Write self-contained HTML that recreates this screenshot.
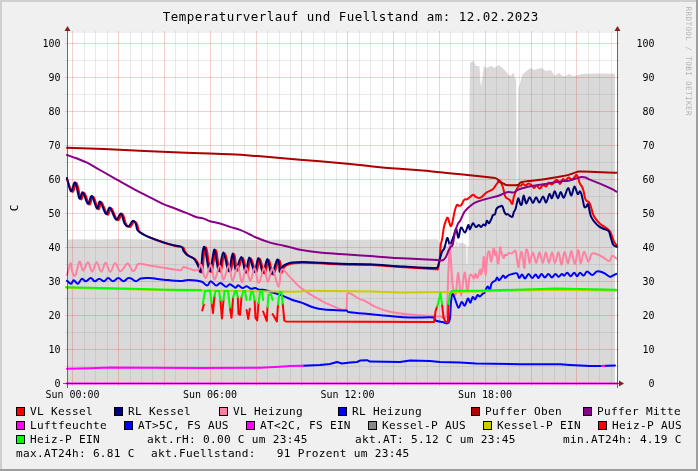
<!DOCTYPE html>
<html><head><meta charset="utf-8"><title>Temperaturverlauf</title>
<style>html,body{margin:0;padding:0;background:#F0F0F0;}svg{display:block;will-change:transform;}</style>
</head><body>
<svg width="698" height="471" viewBox="0 0 698 471"><rect x="0" y="0" width="698" height="471" fill="#F0F0F0"/>
<rect x="0" y="0" width="698" height="2" fill="#CFCFCF"/>
<rect x="0" y="0" width="2" height="471" fill="#CFCFCF"/>
<rect x="0" y="469" width="698" height="2" fill="#9E9E9E"/>
<rect x="696" y="0" width="2" height="471" fill="#9E9E9E"/>
<rect x="67" y="33" width="550" height="350" fill="#FFFFFF"/>
<polygon points="68.0,239.5 80.0,239.2 100.0,239.4 120.0,239.1 150.0,239.6 175.0,239.3 200.0,239.5 225.0,239.4 250.0,240.0 275.0,239.4 300.0,239.6 325.0,239.3 350.0,239.7 375.0,239.4 400.0,239.6 420.0,239.4 437.6,239.3 440.0,243.0 446.0,246.0 455.0,246.5 456.5,241.0 457.4,241.5 457.6,248.3 458.3,248.3 458.6,242.0 460.4,243.5 462.5,242.5 464.6,244.0 466.4,245.0 466.6,264.3 467.4,264.3 467.6,246.2 468.8,246.0 469.1,140.0 470.0,63.0 473.5,60.8 476.0,66.0 479.5,66.0 480.6,84.8 481.6,84.8 483.8,65.5 485.9,68.0 491.6,66.0 494.2,68.0 498.8,65.0 503.2,68.6 508.3,74.5 510.9,75.8 513.5,72.7 515.3,78.4 516.2,80.0 516.9,205.0 517.2,205.0 518.3,88.7 522.5,74.5 530.3,68.0 534.1,70.0 539.3,68.6 541.9,68.0 545.7,71.1 550.9,70.1 554.7,75.8 559.1,72.7 562.5,76.3 566.4,75.8 569.0,73.7 572.8,76.3 576.7,75.3 584.4,73.7 600.0,73.5 615.0,73.7 615.0,383.0 68.0,383.0" fill="#D9D9D9"/>
<g shape-rendering="crispEdges" stroke-width="1"><line x1="65" y1="366.5" x2="619" y2="366.5" stroke="#8F8F8F" stroke-opacity="0.2"/><line x1="65" y1="332.5" x2="619" y2="332.5" stroke="#8F8F8F" stroke-opacity="0.2"/><line x1="65" y1="298.5" x2="619" y2="298.5" stroke="#8F8F8F" stroke-opacity="0.2"/><line x1="65" y1="264.5" x2="619" y2="264.5" stroke="#8F8F8F" stroke-opacity="0.2"/><line x1="65" y1="230.5" x2="619" y2="230.5" stroke="#8F8F8F" stroke-opacity="0.2"/><line x1="65" y1="196.5" x2="619" y2="196.5" stroke="#8F8F8F" stroke-opacity="0.2"/><line x1="65" y1="162.5" x2="619" y2="162.5" stroke="#8F8F8F" stroke-opacity="0.2"/><line x1="65" y1="128.5" x2="619" y2="128.5" stroke="#8F8F8F" stroke-opacity="0.2"/><line x1="65" y1="94.5" x2="619" y2="94.5" stroke="#8F8F8F" stroke-opacity="0.2"/><line x1="65" y1="60.5" x2="619" y2="60.5" stroke="#8F8F8F" stroke-opacity="0.2"/><line x1="84.5" y1="31" x2="84.5" y2="385" stroke="#8F8F8F" stroke-opacity="0.2"/><line x1="95.5" y1="31" x2="95.5" y2="385" stroke="#8F8F8F" stroke-opacity="0.2"/><line x1="107.5" y1="31" x2="107.5" y2="385" stroke="#8F8F8F" stroke-opacity="0.2"/><line x1="130.5" y1="31" x2="130.5" y2="385" stroke="#8F8F8F" stroke-opacity="0.2"/><line x1="141.5" y1="31" x2="141.5" y2="385" stroke="#8F8F8F" stroke-opacity="0.2"/><line x1="152.5" y1="31" x2="152.5" y2="385" stroke="#8F8F8F" stroke-opacity="0.2"/><line x1="175.5" y1="31" x2="175.5" y2="385" stroke="#8F8F8F" stroke-opacity="0.2"/><line x1="187.5" y1="31" x2="187.5" y2="385" stroke="#8F8F8F" stroke-opacity="0.2"/><line x1="198.5" y1="31" x2="198.5" y2="385" stroke="#8F8F8F" stroke-opacity="0.2"/><line x1="221.5" y1="31" x2="221.5" y2="385" stroke="#8F8F8F" stroke-opacity="0.2"/><line x1="233.5" y1="31" x2="233.5" y2="385" stroke="#8F8F8F" stroke-opacity="0.2"/><line x1="244.5" y1="31" x2="244.5" y2="385" stroke="#8F8F8F" stroke-opacity="0.2"/><line x1="267.5" y1="31" x2="267.5" y2="385" stroke="#8F8F8F" stroke-opacity="0.2"/><line x1="279.5" y1="31" x2="279.5" y2="385" stroke="#8F8F8F" stroke-opacity="0.2"/><line x1="290.5" y1="31" x2="290.5" y2="385" stroke="#8F8F8F" stroke-opacity="0.2"/><line x1="313.5" y1="31" x2="313.5" y2="385" stroke="#8F8F8F" stroke-opacity="0.2"/><line x1="324.5" y1="31" x2="324.5" y2="385" stroke="#8F8F8F" stroke-opacity="0.2"/><line x1="336.5" y1="31" x2="336.5" y2="385" stroke="#8F8F8F" stroke-opacity="0.2"/><line x1="359.5" y1="31" x2="359.5" y2="385" stroke="#8F8F8F" stroke-opacity="0.2"/><line x1="370.5" y1="31" x2="370.5" y2="385" stroke="#8F8F8F" stroke-opacity="0.2"/><line x1="382.5" y1="31" x2="382.5" y2="385" stroke="#8F8F8F" stroke-opacity="0.2"/><line x1="405.5" y1="31" x2="405.5" y2="385" stroke="#8F8F8F" stroke-opacity="0.2"/><line x1="416.5" y1="31" x2="416.5" y2="385" stroke="#8F8F8F" stroke-opacity="0.2"/><line x1="427.5" y1="31" x2="427.5" y2="385" stroke="#8F8F8F" stroke-opacity="0.2"/><line x1="450.5" y1="31" x2="450.5" y2="385" stroke="#8F8F8F" stroke-opacity="0.2"/><line x1="462.5" y1="31" x2="462.5" y2="385" stroke="#8F8F8F" stroke-opacity="0.2"/><line x1="473.5" y1="31" x2="473.5" y2="385" stroke="#8F8F8F" stroke-opacity="0.2"/><line x1="496.5" y1="31" x2="496.5" y2="385" stroke="#8F8F8F" stroke-opacity="0.2"/><line x1="508.5" y1="31" x2="508.5" y2="385" stroke="#8F8F8F" stroke-opacity="0.2"/><line x1="519.5" y1="31" x2="519.5" y2="385" stroke="#8F8F8F" stroke-opacity="0.2"/><line x1="542.5" y1="31" x2="542.5" y2="385" stroke="#8F8F8F" stroke-opacity="0.2"/><line x1="554.5" y1="31" x2="554.5" y2="385" stroke="#8F8F8F" stroke-opacity="0.2"/><line x1="565.5" y1="31" x2="565.5" y2="385" stroke="#8F8F8F" stroke-opacity="0.2"/><line x1="588.5" y1="31" x2="588.5" y2="385" stroke="#8F8F8F" stroke-opacity="0.2"/><line x1="599.5" y1="31" x2="599.5" y2="385" stroke="#8F8F8F" stroke-opacity="0.2"/><line x1="611.5" y1="31" x2="611.5" y2="385" stroke="#8F8F8F" stroke-opacity="0.2"/><line x1="65" y1="349.5" x2="619" y2="349.5" stroke="#DE4F4F" stroke-opacity="0.28"/><line x1="65" y1="315.5" x2="619" y2="315.5" stroke="#DE4F4F" stroke-opacity="0.28"/><line x1="65" y1="281.5" x2="619" y2="281.5" stroke="#DE4F4F" stroke-opacity="0.28"/><line x1="65" y1="247.5" x2="619" y2="247.5" stroke="#DE4F4F" stroke-opacity="0.28"/><line x1="65" y1="213.5" x2="619" y2="213.5" stroke="#DE4F4F" stroke-opacity="0.28"/><line x1="65" y1="179.5" x2="619" y2="179.5" stroke="#DE4F4F" stroke-opacity="0.28"/><line x1="65" y1="145.5" x2="619" y2="145.5" stroke="#DE4F4F" stroke-opacity="0.28"/><line x1="65" y1="111.5" x2="619" y2="111.5" stroke="#DE4F4F" stroke-opacity="0.28"/><line x1="65" y1="77.5" x2="619" y2="77.5" stroke="#DE4F4F" stroke-opacity="0.28"/><line x1="65" y1="43.5" x2="619" y2="43.5" stroke="#DE4F4F" stroke-opacity="0.28"/><line x1="72.5" y1="31" x2="72.5" y2="386" stroke="#DE4F4F" stroke-opacity="0.28"/><line x1="118.5" y1="31" x2="118.5" y2="386" stroke="#DE4F4F" stroke-opacity="0.28"/><line x1="164.5" y1="31" x2="164.5" y2="386" stroke="#DE4F4F" stroke-opacity="0.28"/><line x1="210.5" y1="31" x2="210.5" y2="386" stroke="#DE4F4F" stroke-opacity="0.28"/><line x1="256.5" y1="31" x2="256.5" y2="386" stroke="#DE4F4F" stroke-opacity="0.28"/><line x1="301.5" y1="31" x2="301.5" y2="386" stroke="#DE4F4F" stroke-opacity="0.28"/><line x1="347.5" y1="31" x2="347.5" y2="386" stroke="#DE4F4F" stroke-opacity="0.28"/><line x1="393.5" y1="31" x2="393.5" y2="386" stroke="#DE4F4F" stroke-opacity="0.28"/><line x1="439.5" y1="31" x2="439.5" y2="386" stroke="#DE4F4F" stroke-opacity="0.28"/><line x1="485.5" y1="31" x2="485.5" y2="386" stroke="#DE4F4F" stroke-opacity="0.28"/><line x1="531.5" y1="31" x2="531.5" y2="386" stroke="#DE4F4F" stroke-opacity="0.28"/><line x1="576.5" y1="31" x2="576.5" y2="386" stroke="#DE4F4F" stroke-opacity="0.28"/></g>
<g><path d="M67.00,179.00 C67.95,181.26 70.70,191.16 72.40,191.90 C74.10,192.63 75.21,181.92 76.70,183.20 C78.19,184.48 79.55,197.48 80.90,199.20 C82.25,200.91 82.91,192.07 84.40,193.00 C85.89,193.93 87.84,203.85 89.40,204.50 C90.96,205.15 91.72,195.88 93.30,196.70 C94.88,197.52 96.95,208.20 98.40,209.20 C99.85,210.20 100.01,201.44 101.60,202.40 C103.19,203.36 105.78,213.65 107.50,214.70 C109.22,215.75 109.65,207.44 111.40,208.40 C113.15,209.36 115.56,219.20 117.50,220.20 C119.44,221.20 121.01,213.42 122.50,214.10 C123.99,214.78 124.67,221.84 126.00,224.10 C127.33,226.36 128.66,227.46 130.10,227.00 C131.53,226.54 132.97,222.01 134.20,221.50 C135.42,220.99 136.28,222.47 137.10,224.10 C137.92,225.73 137.88,229.07 138.90,230.80 C139.92,232.53 140.87,232.78 142.90,234.00 C144.93,235.22 146.51,236.17 150.50,237.80 C154.49,239.43 161.20,241.83 165.70,243.30 C170.20,244.77 173.14,245.43 176.20,246.20 C179.26,246.97 181.66,246.77 183.20,247.70 C184.74,248.63 183.98,250.05 185.00,251.50 C186.02,252.95 187.20,254.63 189.00,256.00 C190.80,257.37 193.46,257.51 195.30,259.30 C197.14,261.09 198.29,263.98 199.50,266.20 C200.71,268.42 201.36,274.61 202.20,272.00 C203.04,269.39 203.55,255.38 204.30,251.30 C205.05,247.22 205.66,246.46 206.50,248.70 C207.34,250.94 208.17,260.11 209.10,264.10 C210.03,268.09 210.65,273.88 211.80,271.50 C212.96,269.12 214.60,252.18 215.70,250.50 C216.80,248.82 217.21,258.22 218.10,261.90 C218.99,265.57 219.63,273.02 220.80,271.50 C221.97,269.98 223.14,253.11 224.80,253.20 C226.46,253.29 228.67,271.81 230.30,272.00 C231.93,272.19 232.89,254.53 234.10,254.30 C235.31,254.07 235.68,270.10 237.20,270.70 C238.72,271.30 241.07,257.28 242.80,257.70 C244.53,258.12 245.70,273.01 247.10,273.10 C248.50,273.19 249.22,258.29 250.80,258.20 C252.38,258.11 254.53,272.51 256.10,272.60 C257.68,272.69 258.31,258.52 259.80,258.70 C261.29,258.88 263.03,273.41 264.60,273.60 C266.18,273.79 267.31,259.61 268.80,259.80 C270.29,259.99 271.42,274.51 273.10,274.70 C274.78,274.89 277.10,262.86 278.40,260.90 C279.69,258.94 279.99,261.45 280.50,263.50 C281.01,265.55 280.65,271.95 281.30,272.60 C281.95,273.25 282.94,268.60 284.20,267.20 C285.46,265.80 286.82,265.28 288.50,264.60 C290.18,263.92 291.05,263.62 293.80,263.30 C296.55,262.99 299.04,262.76 304.20,262.80 C309.36,262.84 316.60,263.20 323.30,263.50 C330.00,263.80 334.06,264.24 342.50,264.50 C350.94,264.76 360.44,264.51 371.50,265.00 C382.56,265.49 394.29,266.56 405.70,267.30 C417.11,268.04 431.05,268.99 436.70,269.20 C438.00,269.41 437.49,270.11 438.00,268.50 C438.51,266.89 439.15,263.99 439.60,260.00 C440.06,256.01 440.15,249.41 440.60,245.70 C441.06,241.99 441.64,241.95 442.20,238.80 C442.76,235.65 443.20,230.73 443.80,227.70 C444.40,224.67 444.90,223.23 445.60,221.50 C446.30,219.77 446.94,217.01 447.80,217.80 C448.66,218.59 449.68,225.27 450.50,226.00 C451.32,226.73 451.80,224.45 452.50,222.00 C453.20,219.55 453.75,214.97 454.50,212.00 C455.25,209.03 456.01,206.09 456.80,205.00 C457.59,203.91 458.23,205.78 459.00,205.80 C459.77,205.82 460.29,206.13 461.20,205.10 C462.11,204.07 463.15,200.93 464.20,199.90 C465.25,198.87 466.17,199.71 467.20,199.20 C468.23,198.69 469.07,197.79 470.10,197.00 C471.13,196.21 472.05,194.70 473.10,194.70 C474.15,194.70 474.79,196.47 476.10,197.00 C477.41,197.53 478.78,198.49 480.60,197.70 C482.42,196.91 484.42,193.94 486.50,192.50 C488.58,191.06 490.94,190.67 492.50,189.50 C494.06,188.33 494.31,187.22 495.40,185.80 C496.48,184.38 497.91,182.31 498.70,181.40 C499.49,180.49 499.16,179.57 499.90,180.60 C500.63,181.63 501.99,184.57 502.90,187.30 C503.81,190.03 504.33,194.24 505.10,196.20 C505.87,198.16 506.51,197.87 507.30,198.50 C508.09,199.13 508.92,199.08 509.60,199.80 C510.28,200.52 510.69,201.95 511.20,202.60 C511.71,203.25 512.04,204.48 512.50,203.50 C512.96,202.52 513.10,199.41 513.80,197.00 C514.50,194.59 515.66,191.62 516.50,189.70 C517.34,187.77 517.78,186.73 518.60,186.00 C519.42,185.27 520.47,185.87 521.20,185.50 C521.94,185.13 522.05,183.90 522.80,183.90 C523.55,183.90 524.47,185.59 525.50,185.50 C526.53,185.41 527.58,183.40 528.70,183.40 C529.82,183.40 530.97,184.68 531.90,185.50 C532.83,186.32 533.18,188.10 534.00,188.10 C534.82,188.10 535.59,185.40 536.60,185.50 C537.62,185.60 538.68,188.79 539.80,188.70 C540.92,188.61 541.88,185.38 543.00,185.00 C544.12,184.62 545.19,186.88 546.20,186.50 C547.22,186.12 547.78,183.17 548.80,182.80 C549.81,182.43 550.77,184.86 552.00,184.40 C553.23,183.94 554.75,180.85 555.80,180.20 C556.85,179.55 557.25,180.05 558.00,180.70 C558.75,181.35 559.26,184.18 560.10,183.90 C560.94,183.62 561.87,179.66 562.80,179.10 C563.73,178.54 564.38,180.98 565.40,180.70 C566.41,180.42 567.48,177.69 568.60,177.50 C569.72,177.31 570.68,179.78 571.80,179.60 C572.92,179.42 574.16,177.32 575.00,176.50 C575.84,175.68 576.04,174.62 576.60,174.90 C577.16,175.18 577.64,176.61 578.20,178.10 C578.76,179.59 579.15,181.93 579.80,183.40 C580.45,184.87 581.25,185.21 581.90,186.50 C582.55,187.79 582.94,188.75 583.50,190.80 C584.06,192.85 584.54,196.43 585.10,198.20 C585.66,199.97 585.97,200.15 586.70,200.90 C587.44,201.65 588.50,201.26 589.30,202.50 C590.10,203.74 590.67,206.02 591.30,208.00 C591.93,209.98 592.16,211.95 592.90,213.80 C593.63,215.66 594.21,216.83 595.50,218.60 C596.79,220.37 598.53,222.33 600.30,223.90 C602.07,225.47 603.92,226.31 605.60,227.60 C607.28,228.89 608.78,229.81 609.90,231.30 C611.02,232.79 611.26,234.23 612.00,236.10 C612.74,237.97 613.26,240.41 614.10,242.00 C614.94,243.59 616.33,244.64 616.80,245.20" fill="none" stroke="#FF0000" stroke-width="2" stroke-linejoin="round" stroke-linecap="round"/><path d="M67.00,178.00 C67.68,180.31 69.47,190.41 70.90,191.20 C72.34,191.99 73.71,181.22 75.20,182.50 C76.69,183.78 78.05,196.78 79.40,198.50 C80.75,200.22 81.41,191.37 82.90,192.30 C84.39,193.23 86.34,203.15 87.90,203.80 C89.46,204.45 90.22,195.18 91.80,196.00 C93.38,196.82 95.45,207.50 96.90,208.50 C98.35,209.50 98.51,200.74 100.10,201.70 C101.69,202.66 104.28,212.95 106.00,214.00 C107.72,215.05 108.15,206.74 109.90,207.70 C111.65,208.66 114.06,218.50 116.00,219.50 C117.94,220.50 119.51,212.72 121.00,213.40 C122.49,214.08 123.17,221.14 124.50,223.40 C125.83,225.66 127.16,226.76 128.60,226.30 C130.03,225.84 131.47,221.31 132.70,220.80 C133.92,220.29 134.78,221.77 135.60,223.40 C136.42,225.03 136.38,228.37 137.40,230.10 C138.42,231.83 139.37,232.08 141.40,233.30 C143.43,234.53 145.01,235.47 149.00,237.10 C152.99,238.73 159.70,241.13 164.20,242.60 C168.70,244.07 171.64,244.73 174.70,245.50 C177.76,246.27 180.16,246.07 181.70,247.00 C183.24,247.93 182.48,249.35 183.50,250.80 C184.52,252.25 185.70,253.94 187.50,255.30 C189.30,256.67 191.96,256.81 193.80,258.60 C195.64,260.39 196.79,263.28 198.00,265.50 C199.21,267.72 199.86,273.91 200.70,271.30 C201.54,268.69 202.05,254.68 202.80,250.60 C203.55,246.52 204.16,245.76 205.00,248.00 C205.84,250.24 206.67,259.41 207.60,263.40 C208.53,267.39 209.15,273.18 210.30,270.80 C211.46,268.42 213.10,251.48 214.20,249.80 C215.30,248.12 215.71,257.52 216.60,261.20 C217.49,264.88 218.13,272.32 219.30,270.80 C220.47,269.28 221.64,252.41 223.30,252.50 C224.96,252.59 227.17,271.11 228.80,271.30 C230.43,271.49 231.39,253.83 232.60,253.60 C233.81,253.37 234.18,269.40 235.70,270.00 C237.22,270.60 239.57,256.58 241.30,257.00 C243.03,257.42 244.20,272.31 245.60,272.40 C247.00,272.49 247.73,257.59 249.30,257.50 C250.88,257.41 253.03,271.81 254.60,271.90 C256.18,271.99 256.81,257.82 258.30,258.00 C259.79,258.18 261.53,272.71 263.10,272.90 C264.68,273.09 265.81,258.91 267.30,259.10 C268.79,259.29 269.92,273.81 271.60,274.00 C273.28,274.19 275.60,262.16 276.90,260.20 C278.19,258.24 278.49,260.75 279.00,262.80 C279.51,264.85 279.15,271.25 279.80,271.90 C280.45,272.55 281.44,267.90 282.70,266.50 C283.96,265.10 285.32,264.58 287.00,263.90 C288.68,263.22 289.55,262.92 292.30,262.60 C295.05,262.29 297.54,262.06 302.70,262.10 C307.86,262.14 315.10,262.50 321.80,262.80 C328.50,263.10 332.56,263.54 341.00,263.80 C349.44,264.06 358.94,263.81 370.00,264.30 C381.06,264.79 392.53,265.99 404.20,266.60 C415.87,267.21 430.68,268.25 436.70,267.80 C438.60,267.35 437.73,266.66 438.60,264.00 C439.48,261.34 440.70,255.33 441.70,252.60 C442.70,249.87 443.55,250.25 444.30,248.40 C445.05,246.55 445.53,243.77 446.00,242.00 C446.47,240.23 446.65,238.86 447.00,238.30 C447.35,237.74 447.55,237.70 448.00,238.80 C448.45,239.90 448.99,244.04 449.60,244.60 C450.21,245.16 450.73,243.68 451.50,242.00 C452.27,240.32 453.30,237.10 454.00,235.00 C454.70,232.90 455.06,230.96 455.50,230.00 C455.94,229.04 455.98,228.15 456.50,229.50 C457.02,230.85 457.71,238.05 458.50,237.70 C459.29,237.35 459.86,228.39 461.00,227.50 C462.14,226.61 463.72,233.04 465.00,232.60 C466.28,232.16 467.43,225.59 468.30,225.00 C469.18,224.41 469.19,229.50 470.00,229.20 C470.81,228.90 471.87,223.67 472.90,223.30 C473.93,222.93 474.85,226.80 475.90,227.10 C476.95,227.40 478.01,225.00 478.90,225.00 C479.79,225.00 480.19,227.19 481.00,227.10 C481.81,227.01 482.71,224.80 483.50,224.50 C484.29,224.20 484.91,226.06 485.50,225.40 C486.09,224.74 486.29,221.07 486.90,220.70 C487.51,220.33 488.19,223.67 489.00,223.30 C489.81,222.93 490.82,220.02 491.50,218.60 C492.18,217.18 492.29,215.95 492.90,215.20 C493.51,214.45 494.40,215.35 495.00,214.30 C495.60,213.25 495.63,210.53 496.30,209.20 C496.97,207.87 498.12,207.17 498.80,206.70 C499.48,206.23 499.59,206.62 500.20,206.50 C500.81,206.38 501.56,205.04 502.30,206.00 C503.04,206.96 503.73,210.51 504.40,212.00 C505.06,213.49 505.50,214.13 506.10,214.50 C506.70,214.87 507.05,213.80 507.80,214.10 C508.55,214.40 509.58,215.74 510.40,216.20 C511.22,216.66 511.91,217.43 512.50,216.70 C513.10,215.97 513.27,213.35 513.80,212.00 C514.32,210.65 514.90,210.78 515.50,209.00 C516.10,207.22 516.68,203.66 517.20,201.80 C517.73,199.95 517.99,198.10 518.50,198.40 C519.01,198.70 519.52,202.47 520.10,203.50 C520.68,204.53 521.17,205.68 521.80,204.30 C522.43,202.92 522.93,195.74 523.70,195.60 C524.47,195.46 525.15,203.22 526.20,203.50 C527.25,203.78 528.53,197.29 529.70,197.20 C530.87,197.11 531.78,203.00 532.90,203.00 C534.02,203.00 534.98,197.29 536.10,197.20 C537.22,197.11 538.09,202.60 539.30,202.50 C540.51,202.40 541.79,196.60 543.00,196.60 C544.21,196.60 545.08,202.96 546.20,202.50 C547.32,202.04 548.38,194.75 549.40,194.00 C550.41,193.25 551.07,198.67 552.00,198.20 C552.93,197.73 553.67,191.30 554.70,191.30 C555.73,191.30 556.85,198.09 557.90,198.20 C558.95,198.30 559.67,191.99 560.70,191.90 C561.73,191.81 562.50,198.36 563.80,197.70 C565.09,197.03 566.79,188.47 568.10,188.10 C569.41,187.73 570.18,195.88 571.30,195.60 C572.42,195.32 573.40,186.78 574.50,186.50 C575.60,186.22 576.67,193.16 577.60,194.00 C578.53,194.84 579.13,191.30 579.80,191.30 C580.46,191.30 580.84,192.32 581.40,194.00 C581.96,195.68 582.48,198.64 583.00,200.90 C583.52,203.16 583.79,205.94 584.40,206.90 C585.01,207.86 585.85,206.86 586.50,206.40 C587.15,205.94 587.45,203.01 588.10,204.30 C588.75,205.59 589.64,211.58 590.20,213.80 C590.76,216.02 590.63,215.69 591.30,217.00 C591.96,218.31 592.60,219.62 594.00,221.30 C595.40,222.98 597.44,225.22 599.30,226.60 C601.15,227.98 602.94,228.38 604.60,229.20 C606.26,230.02 607.78,230.09 608.80,231.30 C609.81,232.51 609.65,233.77 610.40,236.10 C611.15,238.43 611.98,242.73 613.10,244.60 C614.22,246.47 616.15,246.42 616.80,246.80" fill="none" stroke="#000070" stroke-width="2" stroke-linejoin="round" stroke-linecap="round"/><path d="M67.00,275.00 C67.61,272.95 69.61,263.97 70.50,263.30 C71.39,262.63 71.26,269.06 72.10,271.20 C72.94,273.33 74.00,277.16 75.30,275.50 C76.59,273.84 78.12,262.54 79.50,261.70 C80.88,260.86 81.71,270.61 83.20,270.70 C84.69,270.79 86.41,262.01 88.00,262.20 C89.59,262.39 90.81,271.80 92.30,271.80 C93.79,271.80 94.92,262.20 96.50,262.20 C98.08,262.20 99.71,271.71 101.30,271.80 C102.89,271.89 104.02,262.70 105.60,262.70 C107.17,262.70 108.64,271.69 110.30,271.80 C111.96,271.91 113.33,263.41 115.10,263.30 C116.87,263.19 118.35,271.11 120.40,271.20 C122.45,271.29 125.19,264.73 126.80,263.80 C128.41,262.87 128.55,264.60 129.60,265.90 C130.65,267.19 131.78,270.64 132.80,271.20 C133.82,271.76 134.56,270.31 135.40,269.10 C136.24,267.89 136.67,265.23 137.60,264.30 C138.53,263.37 138.67,263.61 140.70,263.80 C142.73,263.99 145.10,264.70 149.20,265.40 C153.29,266.10 158.71,266.96 164.10,267.80 C169.49,268.64 176.66,270.34 180.00,270.20 C183.20,270.06 181.89,267.37 183.20,267.00 C184.51,266.63 185.63,267.54 187.50,268.10 C189.37,268.66 191.96,269.92 193.90,270.20 C195.84,270.48 197.32,270.61 198.60,269.70 C199.88,268.79 199.99,263.51 201.20,265.00 C202.41,266.49 203.82,278.20 205.50,278.20 C207.18,278.20 209.23,264.72 210.80,265.00 C212.38,265.28 212.93,279.71 214.50,279.80 C216.07,279.89 218.23,265.50 219.80,265.50 C221.38,265.50 221.93,279.80 223.50,279.80 C225.07,279.80 227.21,265.31 228.80,265.50 C230.39,265.69 231.01,280.81 232.60,280.90 C234.19,280.99 236.29,265.72 237.90,266.00 C239.51,266.28 240.37,282.22 241.80,282.50 C243.24,282.78 244.61,267.88 246.10,267.60 C247.59,267.32 248.81,280.81 250.30,280.90 C251.79,280.99 253.11,267.73 254.60,268.10 C256.09,268.47 257.14,283.00 258.80,283.00 C260.46,283.00 262.51,268.28 264.10,268.10 C265.69,267.93 266.41,281.89 267.90,282.00 C269.39,282.11 270.75,267.88 272.60,268.70 C274.46,269.52 276.91,286.52 278.50,286.70 C280.09,286.88 279.84,271.56 281.70,269.70 C283.56,267.84 286.14,273.25 289.10,276.10 C292.06,278.95 295.43,283.17 298.60,286.00 C301.77,288.83 303.68,289.99 307.20,292.30 C310.72,294.61 314.69,297.00 318.70,299.20 C322.71,301.40 325.29,303.10 330.10,304.90 C334.91,306.70 343.14,311.51 346.20,309.50 C347.60,307.49 346.20,295.31 347.60,293.40 C349.81,291.49 355.58,297.18 358.80,298.60 C362.02,300.02 362.99,300.00 366.00,301.50 C369.01,303.00 371.80,305.40 376.00,307.20 C380.20,309.00 384.05,310.50 390.00,311.80 C395.95,313.10 403.00,313.90 410.00,314.60 C417.00,315.30 424.75,315.47 430.00,315.80 C435.25,316.13 437.20,316.29 440.00,316.50 C442.80,316.71 444.74,319.01 446.00,317.00 C447.20,314.99 446.81,312.35 447.20,305.00 C447.58,297.65 448.20,275.00 448.20,275.00 C448.20,275.00 449.80,244.50 449.80,244.50 C449.80,244.50 451.90,275.00 451.90,275.00 C451.90,275.00 452.35,284.27 453.00,287.70 C453.65,291.13 454.67,297.21 455.60,294.60 C456.53,291.99 457.36,272.61 458.30,272.80 C459.25,272.99 459.90,295.74 461.00,295.70 C462.10,295.66 463.48,273.32 464.60,272.60 C465.72,271.88 466.51,290.99 467.40,291.60 C468.29,292.21 468.89,278.92 469.70,276.10 C470.50,273.28 471.26,275.08 472.00,275.50 C472.74,275.92 473.29,278.80 473.90,278.50 C474.51,278.20 474.87,273.91 475.50,273.80 C476.13,273.69 476.73,278.63 477.50,277.90 C478.27,277.16 479.29,270.21 479.90,269.60 C480.51,268.99 480.55,274.50 481.00,274.40 C481.45,274.29 481.98,272.03 482.50,269.00 C483.02,265.97 483.46,255.88 484.00,257.10 C484.54,258.33 485.04,276.00 485.60,276.00 C486.16,276.00 486.57,261.39 487.20,257.10 C487.83,252.81 488.48,250.73 489.20,251.50 C489.92,252.27 490.55,262.02 491.30,261.50 C492.05,260.98 492.80,249.60 493.50,248.50 C494.20,247.40 494.86,254.64 495.30,255.20 C495.74,255.76 495.48,250.23 496.00,251.70 C496.52,253.17 497.60,264.32 498.30,263.60 C499.00,262.88 499.53,249.79 500.00,247.60 C500.47,245.41 500.39,249.28 501.00,251.10 C501.61,252.92 502.80,257.37 503.50,258.00 C504.20,258.63 504.39,255.22 505.00,254.70 C505.61,254.17 506.30,255.31 507.00,255.00 C507.70,254.69 508.12,253.16 509.00,252.90 C509.88,252.64 510.90,253.92 512.00,253.50 C513.10,253.08 514.51,250.08 515.30,250.50 C516.09,250.92 515.98,253.03 516.50,255.90 C517.02,258.77 517.77,266.08 518.30,266.90 C518.82,267.72 518.98,263.26 519.50,260.60 C520.02,257.94 520.69,252.00 521.30,251.70 C521.91,251.40 522.44,256.08 523.00,258.90 C523.56,261.72 523.98,269.27 524.50,267.80 C525.02,266.33 525.39,253.11 526.00,250.50 C526.61,247.89 527.37,250.71 528.00,252.90 C528.63,255.09 528.73,263.07 529.60,263.00 C530.48,262.93 531.85,252.50 533.00,252.50 C534.15,252.50 535.06,263.04 536.20,263.00 C537.34,262.96 538.35,252.30 539.50,252.30 C540.65,252.30 541.70,263.00 542.80,263.00 C543.90,263.00 544.71,252.30 545.80,252.30 C546.88,252.30 547.91,263.00 549.00,263.00 C550.09,263.00 550.95,252.30 552.00,252.30 C553.05,252.30 553.86,263.00 555.00,263.00 C556.14,263.00 557.36,251.95 558.50,252.30 C559.64,252.65 560.45,265.05 561.50,265.00 C562.55,264.95 563.36,252.28 564.50,252.00 C565.64,251.72 566.81,263.56 568.00,263.40 C569.19,263.24 570.11,251.00 571.30,251.10 C572.49,251.20 573.57,264.21 574.80,264.00 C576.02,263.79 577.28,250.00 578.30,249.90 C579.31,249.80 579.59,263.08 580.60,263.40 C581.62,263.71 582.77,252.01 584.10,251.70 C585.43,251.38 586.87,261.20 588.20,261.60 C589.53,262.00 590.27,255.33 591.70,254.00 C593.13,252.67 594.35,253.39 596.40,254.00 C598.45,254.61 601.14,256.27 603.40,257.50 C605.66,258.73 607.76,261.30 609.30,261.00 C610.84,260.70 610.98,256.20 612.20,255.80 C613.43,255.40 615.58,258.19 616.30,258.70" fill="none" stroke="#FF80A0" stroke-width="2" stroke-linejoin="round" stroke-linecap="round"/><path d="M67.00,280.80 C67.70,281.32 69.83,283.89 71.00,283.80 C72.17,283.71 72.49,280.30 73.70,280.30 C74.91,280.30 76.50,284.05 77.90,283.80 C79.30,283.56 80.30,279.34 81.70,278.90 C83.10,278.46 84.33,281.44 85.90,281.30 C87.48,281.16 89.12,278.10 90.70,278.10 C92.28,278.10 93.41,281.19 94.90,281.30 C96.39,281.41 97.61,278.70 99.20,278.70 C100.79,278.70 102.42,281.41 104.00,281.30 C105.58,281.19 106.62,278.10 108.20,278.10 C109.78,278.10 111.23,281.30 113.00,281.30 C114.77,281.30 116.44,278.10 118.30,278.10 C120.16,278.10 121.90,281.30 123.60,281.30 C125.30,281.30 126.67,278.59 128.00,278.10 C129.33,277.61 129.80,277.94 131.20,278.50 C132.60,279.06 134.34,281.30 136.00,281.30 C137.66,281.30 138.39,279.06 140.70,278.50 C143.01,277.94 145.10,277.89 149.20,278.10 C153.29,278.31 158.71,279.19 164.10,279.70 C169.49,280.21 175.73,280.95 180.00,281.00 C184.27,281.05 184.79,279.91 188.50,280.00 C192.21,280.09 197.94,280.52 201.20,281.50 C204.45,282.48 205.42,285.65 207.10,285.60 C208.78,285.55 209.23,281.20 210.80,281.20 C212.38,281.20 214.42,285.29 216.10,285.60 C217.78,285.92 218.63,282.79 220.40,283.00 C222.17,283.21 224.54,286.59 226.20,286.80 C227.86,287.01 228.27,284.02 229.90,284.20 C231.53,284.38 234.06,287.62 235.50,287.80 C236.94,287.98 236.89,285.15 238.10,285.20 C239.31,285.25 240.91,287.91 242.40,288.10 C243.89,288.29 245.11,286.18 246.60,286.30 C248.09,286.42 249.41,288.49 250.90,288.80 C252.39,289.12 253.61,287.94 255.10,288.10 C256.59,288.26 257.72,289.38 259.40,289.70 C261.08,290.01 262.48,289.44 264.70,289.90 C266.92,290.35 269.51,291.50 272.10,292.30 C274.69,293.11 277.09,293.66 279.50,294.50 C281.91,295.34 283.48,296.09 285.90,297.10 C288.31,298.12 290.57,299.34 293.30,300.30 C296.03,301.26 298.07,301.39 301.50,302.60 C304.93,303.81 308.89,305.99 312.90,307.20 C316.91,308.41 318.57,308.90 324.40,309.50 C330.23,310.10 341.98,310.15 346.20,310.60 C348.50,311.06 346.20,311.54 348.50,312.10 C351.96,312.66 358.74,313.10 366.00,313.80 C373.26,314.50 382.30,315.45 390.00,316.10 C397.70,316.75 402.30,317.27 410.00,317.50 C417.70,317.73 429.52,316.88 434.00,317.40 C435.60,317.92 434.11,319.68 435.60,320.50 C437.09,321.32 440.35,321.63 442.50,322.10 C444.65,322.57 446.59,323.94 447.90,323.20 C449.21,322.46 449.46,321.63 450.00,317.90 C450.54,314.17 450.55,306.08 451.00,301.90 C451.45,297.72 451.85,294.37 452.60,294.00 C453.35,293.63 454.27,297.38 455.30,299.80 C456.33,302.22 457.38,307.43 458.50,307.80 C459.62,308.17 460.60,302.28 461.70,301.90 C462.80,301.51 463.72,306.19 464.80,305.60 C465.88,305.01 466.94,298.99 467.90,298.50 C468.86,298.01 469.46,303.06 470.30,302.80 C471.14,302.54 471.86,297.60 472.70,297.00 C473.54,296.40 474.26,299.73 475.10,299.40 C475.94,299.07 476.66,295.61 477.50,295.10 C478.34,294.59 478.99,296.75 479.90,296.50 C480.81,296.25 481.88,294.37 482.70,293.70 C483.52,293.03 483.92,293.70 484.60,292.70 C485.28,291.70 486.01,289.08 486.60,288.00 C487.19,286.92 487.42,286.17 488.00,286.50 C488.58,286.83 489.32,290.32 489.90,289.90 C490.48,289.48 490.72,285.54 491.30,284.10 C491.88,282.67 492.45,282.37 493.20,281.70 C493.95,281.03 494.92,281.05 495.60,280.30 C496.28,279.55 496.51,277.40 497.10,277.40 C497.69,277.40 498.34,280.12 499.00,280.30 C499.66,280.48 500.15,279.24 500.90,278.40 C501.65,277.56 502.55,275.59 503.30,275.50 C504.05,275.41 504.36,277.90 505.20,277.90 C506.04,277.90 506.93,276.16 508.10,275.50 C509.27,274.84 510.36,274.49 511.90,274.10 C513.44,273.72 515.62,272.62 516.90,273.30 C518.18,273.98 518.29,277.79 519.20,278.00 C520.11,278.21 521.09,274.39 522.10,274.50 C523.12,274.61 523.86,278.71 525.00,278.60 C526.14,278.50 527.36,274.00 528.60,273.90 C529.84,273.79 530.88,277.89 532.10,278.00 C533.33,278.11 534.48,274.50 535.60,274.50 C536.72,274.50 537.49,278.11 538.50,278.00 C539.51,277.89 540.28,274.00 541.40,273.90 C542.52,273.79 543.67,277.40 544.90,277.40 C546.12,277.40 547.17,273.90 548.40,273.90 C549.62,273.90 550.66,277.40 551.90,277.40 C553.14,277.40 554.36,274.00 555.50,273.90 C556.64,273.79 557.28,276.80 558.40,276.80 C559.52,276.80 560.87,274.11 561.90,273.90 C562.93,273.69 563.37,275.81 564.30,275.60 C565.23,275.39 566.08,272.59 567.20,272.70 C568.32,272.81 569.48,276.20 570.70,276.20 C571.93,276.20 573.08,272.70 574.20,272.70 C575.32,272.70 576.09,276.20 577.10,276.20 C578.12,276.20 578.86,272.81 580.00,272.70 C581.14,272.59 582.36,275.79 583.60,275.60 C584.84,275.41 585.58,271.69 587.10,271.60 C588.62,271.51 590.67,275.10 592.30,275.10 C593.93,275.10 595.07,272.21 596.40,271.60 C597.73,270.99 598.46,271.30 599.90,271.60 C601.34,271.90 602.87,272.39 604.60,273.30 C606.33,274.21 608.37,276.40 609.80,276.80 C611.23,277.20 611.66,276.11 612.80,275.60 C613.94,275.09 615.69,274.20 616.30,273.90" fill="none" stroke="#0000FF" stroke-width="2" stroke-linejoin="round" stroke-linecap="round"/><path d="M67.00,147.80 C73.47,148.03 84.22,148.26 104.00,149.10 C123.78,149.94 157.95,151.69 180.00,152.60 C202.05,153.51 216.40,153.69 230.00,154.30 C243.60,154.91 245.45,155.16 257.70,156.10 C269.95,157.04 283.85,158.33 300.00,159.70 C316.15,161.06 336.00,162.59 350.00,163.90 C364.00,165.21 366.00,165.92 380.00,167.20 C394.00,168.48 417.87,170.15 430.00,171.20 C442.13,172.25 441.50,172.41 449.30,173.20 C457.11,173.99 466.53,174.84 474.60,175.70 C482.67,176.56 491.11,177.10 495.40,178.10 C499.10,179.10 497.54,180.37 499.10,181.40 C500.66,182.43 503.02,183.37 504.30,184.00 C505.58,184.63 504.30,184.82 506.40,185.00 C508.71,185.18 514.91,185.47 517.50,185.00 C520.09,184.53 518.68,183.05 521.20,182.30 C523.72,181.55 527.61,181.26 531.90,180.70 C536.19,180.14 541.13,179.75 545.70,179.10 C550.27,178.45 553.99,177.73 558.00,177.00 C562.01,176.27 565.26,175.79 568.60,174.90 C571.94,174.01 574.86,172.50 577.10,171.90 C579.34,171.31 578.23,171.50 581.40,171.50 C584.57,171.50 590.56,171.72 595.20,171.90 C599.84,172.08 604.19,172.36 607.90,172.50 C611.61,172.64 614.91,172.66 616.40,172.70" fill="none" stroke="#AA0000" stroke-width="2" stroke-linejoin="round" stroke-linecap="round"/><path d="M67.00,155.00 C68.75,155.61 73.39,157.12 77.00,158.50 C80.61,159.88 83.57,160.89 87.60,162.90 C91.62,164.91 94.80,167.03 100.00,170.00 C105.20,172.97 111.30,176.50 117.30,179.90 C123.30,183.30 128.58,186.36 134.30,189.40 C140.02,192.44 144.80,194.69 150.00,197.30 C155.20,199.91 159.62,202.34 164.00,204.30 C168.38,206.26 170.89,206.91 175.00,208.50 C179.11,210.09 183.84,211.91 187.50,213.40 C191.16,214.89 193.19,216.12 195.90,217.00 C198.61,217.88 200.53,217.67 203.00,218.40 C205.47,219.13 207.03,220.31 210.00,221.20 C212.97,222.09 216.50,222.50 220.00,223.50 C223.50,224.50 226.50,225.78 230.00,226.90 C233.50,228.02 236.50,228.57 240.00,229.90 C243.50,231.23 247.20,233.17 250.00,234.50 C252.80,235.83 252.50,236.08 256.00,237.50 C259.50,238.92 265.80,241.31 270.00,242.60 C274.20,243.89 276.50,244.09 280.00,244.90 C283.50,245.71 286.50,246.36 290.00,247.20 C293.50,248.04 294.44,248.72 300.00,249.70 C305.56,250.68 313.52,251.96 321.80,252.80 C330.08,253.64 338.87,253.92 347.30,254.50 C355.74,255.08 362.26,255.54 370.00,256.10 C377.74,256.66 383.27,257.21 391.50,257.70 C399.73,258.19 408.99,258.50 417.00,258.90 C425.01,259.30 432.80,259.77 437.30,260.00 C441.80,260.23 441.19,260.74 442.70,260.20 C444.20,259.66 444.87,258.60 445.90,256.90 C446.93,255.20 447.76,252.27 448.60,250.50 C449.44,248.73 449.96,247.83 450.70,246.80 C451.44,245.77 452.05,247.16 452.80,244.60 C453.55,242.04 454.09,235.86 455.00,232.20 C455.91,228.54 457.12,225.64 458.00,223.70 C458.88,221.76 459.18,222.59 460.00,221.10 C460.82,219.61 461.91,216.83 462.70,215.20 C463.49,213.57 463.66,212.99 464.50,211.80 C465.34,210.61 465.73,209.96 467.50,208.40 C469.27,206.84 471.54,204.51 474.60,202.90 C477.66,201.29 481.10,200.37 485.00,199.20 C488.90,198.03 493.52,197.23 496.90,196.20 C500.28,195.17 502.27,194.05 504.30,193.30 C506.33,192.55 506.84,192.06 508.50,191.90 C510.16,191.74 511.94,192.87 513.80,192.40 C515.65,191.93 515.93,190.32 519.10,189.20 C522.27,188.08 527.25,186.93 531.90,186.00 C536.55,185.07 540.78,184.69 545.70,183.90 C550.62,183.11 555.99,182.06 560.00,181.50 C564.01,180.94 565.61,181.29 568.60,180.70 C571.59,180.10 574.86,178.75 577.10,178.10 C579.34,177.45 579.91,177.10 581.40,177.00 C582.89,176.90 584.11,177.04 585.60,177.50 C587.09,177.96 587.29,178.48 589.90,179.60 C592.51,180.72 596.79,182.31 600.50,183.90 C604.21,185.49 608.32,187.35 611.10,188.70 C613.88,190.05 615.47,191.09 616.40,191.60" fill="none" stroke="#880088" stroke-width="2" stroke-linejoin="round" stroke-linecap="round"/><polyline points="67.0,383.5 617.0,383.5" fill="none" stroke="#FF00FF" stroke-width="2" stroke-linejoin="round" stroke-linecap="round"/><polyline points="303.0,365.7 320.0,365.1 330.0,364.0 337.0,362.0 342.0,363.5 350.0,362.6 357.0,362.0 360.0,360.6 367.0,360.2 370.0,361.6 400.0,362.0 410.0,360.6 430.0,361.0 440.0,362.0 460.0,362.4 476.0,363.4 520.0,364.2 560.0,364.2 570.0,364.9 580.0,365.5 590.0,365.9 600.0,366.1 615.0,365.5" fill="none" stroke="#0000FF" stroke-width="2" stroke-linejoin="round" stroke-linecap="round"/><polyline points="67.0,368.7 90.0,368.3 110.0,367.6 150.0,367.8 200.0,368.1 260.0,367.7 280.0,366.7 290.0,366.1 303.0,365.7" fill="none" stroke="#FF00FF" stroke-width="2" stroke-linejoin="round" stroke-linecap="round"/><polyline points="601.8,366.1 604.2,366.1" fill="none" stroke="#FF00FF" stroke-width="2" stroke-linejoin="round" stroke-linecap="round"/><polyline points="67.0,287.7 100.0,288.5 132.0,289.3 170.0,290.2 200.0,290.6 210.0,290.5 240.0,291.0 296.0,291.8 309.0,290.8 370.0,291.4 400.0,292.5 446.0,292.0 449.0,292.0 476.0,291.5 556.0,289.8 616.0,290.8" fill="none" stroke="#CCCC00" stroke-width="2" stroke-linejoin="round" stroke-linecap="round"/><polyline points="202.3,310.5 203.9,304.5" fill="none" stroke="#FF0000" stroke-width="2" stroke-linejoin="round" stroke-linecap="round"/><polyline points="211.8,303.5 213.0,313.0 214.5,296.0" fill="none" stroke="#FF0000" stroke-width="2" stroke-linejoin="round" stroke-linecap="round"/><polyline points="220.4,300.3 221.9,318.4 223.5,300.0" fill="none" stroke="#FF0000" stroke-width="2" stroke-linejoin="round" stroke-linecap="round"/><polyline points="229.9,307.7 231.5,317.8 233.1,297.6" fill="none" stroke="#FF0000" stroke-width="2" stroke-linejoin="round" stroke-linecap="round"/><polyline points="237.8,297.0 238.5,314.0 240.0,315.0 241.5,297.0" fill="none" stroke="#FF0000" stroke-width="2" stroke-linejoin="round" stroke-linecap="round"/><polyline points="246.6,309.9 248.2,318.9 249.8,308.8" fill="none" stroke="#FF0000" stroke-width="2" stroke-linejoin="round" stroke-linecap="round"/><polyline points="254.6,300.3 255.5,318.0 257.2,320.5 258.5,303.0" fill="none" stroke="#FF0000" stroke-width="2" stroke-linejoin="round" stroke-linecap="round"/><polyline points="263.1,311.5 266.8,321.0 267.5,307.0" fill="none" stroke="#FF0000" stroke-width="2" stroke-linejoin="round" stroke-linecap="round"/><polyline points="272.6,314.1 276.9,321.5 278.0,304.5" fill="none" stroke="#FF0000" stroke-width="2" stroke-linejoin="round" stroke-linecap="round"/><polyline points="282.7,303.5 284.3,320.5 286.0,321.5 434.0,322.1 435.6,311.0 437.2,306.2" fill="none" stroke="#FF0000" stroke-width="2" stroke-linejoin="round" stroke-linecap="round"/><polyline points="442.0,304.0 443.6,317.9 445.7,322.1 447.9,321.6 448.4,304.0" fill="none" stroke="#FF0000" stroke-width="2" stroke-linejoin="round" stroke-linecap="round"/><polyline points="66.0,287.2 100.0,288.0 132.0,288.8 170.0,289.7 201.0,290.0" fill="none" stroke="#00FF00" stroke-width="2" stroke-linejoin="round" stroke-linecap="round"/><polyline points="202.8,304.0 205.0,291.0 210.0,290.5 211.8,303.5" fill="none" stroke="#00FF00" stroke-width="2" stroke-linejoin="round" stroke-linecap="round"/><polyline points="214.5,296.0 215.5,291.0 219.0,291.0 220.4,300.3" fill="none" stroke="#00FF00" stroke-width="2" stroke-linejoin="round" stroke-linecap="round"/><polyline points="223.5,300.0 224.5,291.0 228.0,291.0 229.9,307.7" fill="none" stroke="#00FF00" stroke-width="2" stroke-linejoin="round" stroke-linecap="round"/><polyline points="233.1,297.6 235.0,291.0 236.5,291.0 237.8,297.0" fill="none" stroke="#00FF00" stroke-width="2" stroke-linejoin="round" stroke-linecap="round"/><polyline points="241.5,297.0 243.5,291.0 245.0,291.0 246.6,300.0" fill="none" stroke="#00FF00" stroke-width="2" stroke-linejoin="round" stroke-linecap="round"/><polyline points="249.8,300.0 251.0,292.0 253.0,292.0 254.6,300.3" fill="none" stroke="#00FF00" stroke-width="2" stroke-linejoin="round" stroke-linecap="round"/><polyline points="258.5,303.0 260.0,292.0 262.0,291.0 263.1,300.0" fill="none" stroke="#00FF00" stroke-width="2" stroke-linejoin="round" stroke-linecap="round"/><polyline points="267.5,307.0 268.5,295.0 271.0,294.0 272.6,300.0" fill="none" stroke="#00FF00" stroke-width="2" stroke-linejoin="round" stroke-linecap="round"/><polyline points="278.0,304.5 279.5,292.0 281.5,292.0 282.7,303.5" fill="none" stroke="#00FF00" stroke-width="2" stroke-linejoin="round" stroke-linecap="round"/><polyline points="437.2,306.2 437.8,304.6 440.4,292.9 442.0,304.0" fill="none" stroke="#00FF00" stroke-width="2" stroke-linejoin="round" stroke-linecap="round"/><polyline points="448.4,304.0 450.0,293.4 452.1,290.8 476.0,290.8 516.0,289.7 556.0,288.5 616.0,289.7" fill="none" stroke="#00FF00" stroke-width="2" stroke-linejoin="round" stroke-linecap="round"/></g>
<g shape-rendering="crispEdges" stroke-width="1" stroke="#1F1F1F" stroke-opacity="0.65"><line x1="63" y1="383.5" x2="621" y2="383.5"/><line x1="67.5" y1="388" x2="67.5" y2="30"/><line x1="617.5" y1="388" x2="617.5" y2="30"/></g>
<g fill="#801F1F"><polygon points="64.5,31 70.5,31 67.5,26"/><polygon points="614.5,31 620.5,31 617.5,26"/><polygon points="619,380.5 619,386.5 624,383.5"/></g>
<g font-family="'DejaVu Sans Mono','Liberation Mono',monospace" font-size="10px" letter-spacing="0.0" fill="#000"><text x="60.6" y="387.1" text-anchor="end">0</text><text x="654.6" y="387.1" text-anchor="end">0</text><text x="60.6" y="353.1" text-anchor="end">10</text><text x="654.6" y="353.1" text-anchor="end">10</text><text x="60.6" y="319.1" text-anchor="end">20</text><text x="654.6" y="319.1" text-anchor="end">20</text><text x="60.6" y="285.1" text-anchor="end">30</text><text x="654.6" y="285.1" text-anchor="end">30</text><text x="60.6" y="251.1" text-anchor="end">40</text><text x="654.6" y="251.1" text-anchor="end">40</text><text x="60.6" y="217.1" text-anchor="end">50</text><text x="654.6" y="217.1" text-anchor="end">50</text><text x="60.6" y="183.1" text-anchor="end">60</text><text x="654.6" y="183.1" text-anchor="end">60</text><text x="60.6" y="149.1" text-anchor="end">70</text><text x="654.6" y="149.1" text-anchor="end">70</text><text x="60.6" y="115.1" text-anchor="end">80</text><text x="654.6" y="115.1" text-anchor="end">80</text><text x="60.6" y="81.1" text-anchor="end">90</text><text x="654.6" y="81.1" text-anchor="end">90</text><text x="60.6" y="47.1" text-anchor="end">100</text><text x="654.6" y="47.1" text-anchor="end">100</text><text x="72.5" y="397.6" text-anchor="middle">Sun 00:00</text><text x="210.0" y="397.6" text-anchor="middle">Sun 06:00</text><text x="347.5" y="397.6" text-anchor="middle">Sun 12:00</text><text x="485.0" y="397.6" text-anchor="middle">Sun 18:00</text></g>
<text x="162.7" y="20.8" font-family="'DejaVu Sans Mono','Liberation Mono',monospace" font-size="12.5px" letter-spacing="0.475" fill="#000">Temperaturverlauf und Fuellstand am: 12.02.2023</text>
<text transform="translate(18.2,207.8) rotate(-90)" text-anchor="middle" font-family="'DejaVu Sans Mono','Liberation Mono',monospace" font-size="11.1px" fill="#000">C</text>
<text transform="translate(685.8,6.5) rotate(90)" font-family="'DejaVu Sans Mono','Liberation Mono',monospace" font-size="7.6px" letter-spacing="0.4" fill="#000" fill-opacity="0.27">RRDTOOL / TOBI OETIKER</text>
<g shape-rendering="crispEdges"><rect x="16.5" y="407.5" width="8" height="8" fill="#FF0000" stroke="#000" stroke-width="1"/><rect x="114.5" y="407.5" width="8" height="8" fill="#000080" stroke="#000" stroke-width="1"/><rect x="219.5" y="407.5" width="8" height="8" fill="#FF80A0" stroke="#000" stroke-width="1"/><rect x="338.5" y="407.5" width="8" height="8" fill="#0000FF" stroke="#000" stroke-width="1"/><rect x="471.5" y="407.5" width="8" height="8" fill="#B00000" stroke="#000" stroke-width="1"/><rect x="583.5" y="407.5" width="8" height="8" fill="#880088" stroke="#000" stroke-width="1"/><rect x="16.5" y="421.5" width="8" height="8" fill="#FF00FF" stroke="#000" stroke-width="1"/><rect x="124.5" y="421.5" width="8" height="8" fill="#0000FF" stroke="#000" stroke-width="1"/><rect x="246.5" y="421.5" width="8" height="8" fill="#FF00FF" stroke="#000" stroke-width="1"/><rect x="368.5" y="421.5" width="8" height="8" fill="#888888" stroke="#000" stroke-width="1"/><rect x="483.5" y="421.5" width="8" height="8" fill="#CCCC00" stroke="#000" stroke-width="1"/><rect x="598.5" y="421.5" width="8" height="8" fill="#FF0000" stroke="#000" stroke-width="1"/><rect x="16.5" y="435.5" width="8" height="8" fill="#00FF00" stroke="#000" stroke-width="1"/></g>
<g font-family="'DejaVu Sans Mono','Liberation Mono',monospace" font-size="11.1px" letter-spacing="0.31" fill="#000" style="white-space:pre"><text x="30" y="415" xml:space="preserve">VL Kessel</text><text x="128" y="415" xml:space="preserve">RL Kessel</text><text x="233" y="415" xml:space="preserve">VL Heizung</text><text x="352" y="415" xml:space="preserve">RL Heizung</text><text x="485" y="415" xml:space="preserve">Puffer Oben</text><text x="597" y="415" xml:space="preserve">Puffer Mitte</text><text x="30" y="429" xml:space="preserve">Luftfeuchte</text><text x="138" y="429" xml:space="preserve">AT&gt;5C, FS AUS</text><text x="260" y="429" xml:space="preserve">AT&lt;2C, FS EIN</text><text x="382" y="429" xml:space="preserve">Kessel-P AUS</text><text x="497" y="429" xml:space="preserve">Kessel-P EIN</text><text x="612" y="429" xml:space="preserve">Heiz-P AUS</text><text x="30" y="443" xml:space="preserve">Heiz-P EIN</text><text x="147" y="443" xml:space="preserve">akt.rH: 0.00 C um 23:45</text><text x="355" y="443" xml:space="preserve">akt.AT: 5.12 C um 23:45</text><text x="563" y="443" xml:space="preserve">min.AT24h: 4.19 C</text><text x="16" y="457" xml:space="preserve">max.AT24h: 6.81 C</text><text x="151" y="457" xml:space="preserve">akt.Fuellstand:   91 Prozent um 23:45</text></g></svg>
</body></html>
